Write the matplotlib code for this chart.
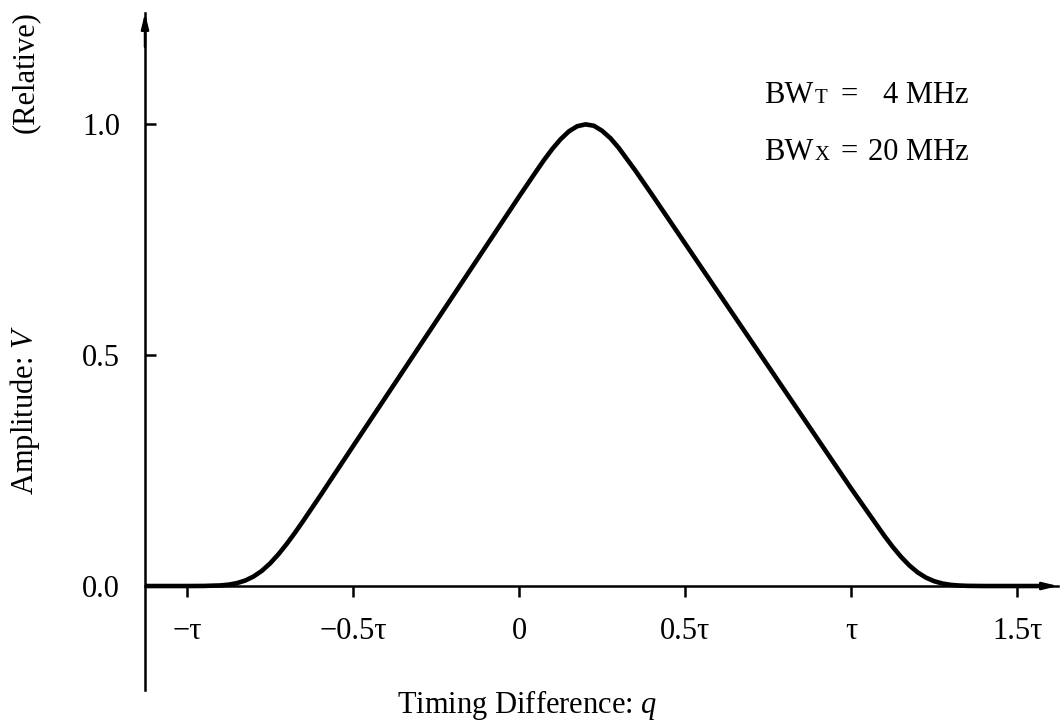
import matplotlib
matplotlib.use('Agg')
import matplotlib.pyplot as plt

# curve (x in units of tau, y relative amplitude)
q_tau = [-1.127, -1.0, -0.95, -0.9, -0.875, -0.85, -0.825, -0.8, -0.775, -0.75,
         -0.725, -0.7, -0.675, -0.65, -0.6, -0.5, -0.4, -0.3, -0.2, -0.1,
         0.0, 0.05, 0.075, 0.1, 0.125, 0.15, 0.175, 0.2, 0.225, 0.25,
         0.275, 0.3, 0.35, 0.4, 0.5, 0.6, 0.7, 0.8, 0.9, 1.0,
         1.1, 1.125, 1.15, 1.175, 1.2, 1.225, 1.25, 1.275, 1.3, 1.325,
         1.35, 1.4, 1.584]
amplitude = [0.0, 0.0, 0.0002, 0.0013, 0.003, 0.0063, 0.0119, 0.0206, 0.0329, 0.0491,
             0.0688, 0.0912, 0.1156, 0.1414, 0.1945, 0.303, 0.411, 0.519, 0.627, 0.735,
             0.843, 0.896, 0.922, 0.946, 0.967, 0.984, 0.995, 0.999, 0.996, 0.985,
             0.969, 0.948, 0.899, 0.847, 0.741, 0.635, 0.529, 0.423, 0.317, 0.211,
             0.1086, 0.0849, 0.0634, 0.0447, 0.0296, 0.0183, 0.0104, 0.0054, 0.0025, 0.0011,
             0.0004, 0.0, 0.0]

x_ticks = [-1.0, -0.5, 0.0, 0.5, 1.0, 1.5]
x_labels = ['\u2212\u03c4', '\u22120.5\u03c4', '0', '0.5\u03c4', '\u03c4', '1.5\u03c4']
y_ticks = [0.0, 0.5, 1.0]
y_labels = ['0.0', '0.5', '1.0']

plt.rcParams['font.family'] = ['Liberation Serif', 'DejaVu Serif']
plt.rcParams['mathtext.fontset'] = 'custom'
plt.rcParams['mathtext.rm'] = 'Liberation Serif'
plt.rcParams['mathtext.it'] = 'Liberation Serif:italic'
FS = 22

W, H = 1061, 727
fig = plt.figure(figsize=(W / 100, H / 100), dpi=100)
ax = fig.add_axes([145 / W, 37 / H, 913 / W, 677 / H])
ax.set_xlim(-1.127, 1.623)
ax.set_ylim(-0.225, 1.24)

ax.plot(q_tau, amplitude, color='black', lw=3.3, solid_capstyle='butt', zorder=3)

for s in ['top', 'right']:
    ax.spines[s].set_visible(False)
ax.spines['bottom'].set_position(('data', 0))
ax.spines['bottom'].set_linewidth(1.8)
ax.spines['left'].set_linewidth(1.8)

arrow = dict(arrowstyle='-|>,head_length=0.9,head_width=0.22', color='black',
             lw=1.8, shrinkA=0, shrinkB=0)
ax.annotate('', xy=(1, 0), xycoords=('axes fraction', 'data'),
            xytext=(0.97, 0), textcoords=('axes fraction', 'data'), arrowprops=arrow)
ax.annotate('', xy=(0, 1), xycoords='axes fraction',
            xytext=(0, 0.95), textcoords='axes fraction', arrowprops=arrow)

ax.set_xticks(x_ticks)
ax.set_xticklabels(x_labels)
ax.set_yticks(y_ticks)
ax.set_yticklabels(y_labels)
ax.tick_params(axis='x', direction='out', length=8, width=1.8, pad=14, labelsize=FS)
ax.tick_params(axis='y', direction='in', length=8, width=1.8, pad=18, labelsize=FS)


def px(x, y):
    return x / W, 1 - y / H


fig.text(*px(25, 410), 'Amplitude: $V$', rotation=90, ha='center', va='center', fontsize=FS)
fig.text(*px(25, 72), '(Relative)', rotation=90, ha='center', va='center', fontsize=FS)
fig.text(*px(527, 705), 'Timing Difference: $q$', ha='center', va='center', fontsize=FS)

for base_y, sub, val in [(103, 'T', '4 MHz'), (160, 'X', '20 MHz')]:
    fig.text(*px(764, base_y), 'BW', ha='left', va='baseline', fontsize=FS)
    fig.text(*px(815, base_y), sub, ha='left', va='baseline', fontsize=FS * 0.68)
    fig.text(*px(849, base_y), '=', ha='center', va='baseline', fontsize=FS)
    fig.text(*px(969, base_y), val, ha='right', va='baseline', fontsize=FS)

fig.savefig('out.png', dpi=100)
